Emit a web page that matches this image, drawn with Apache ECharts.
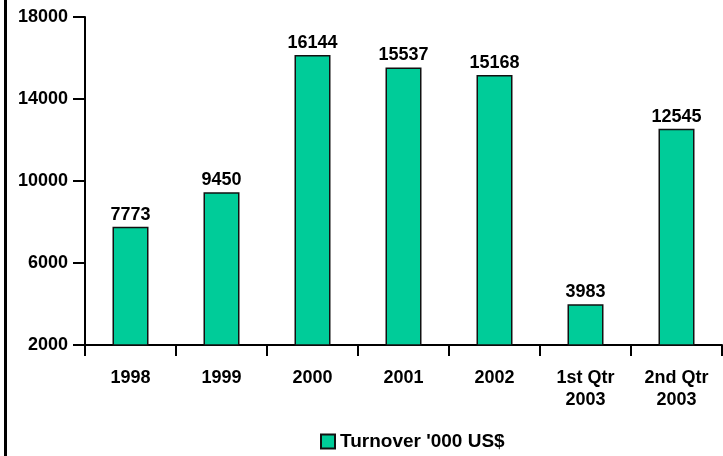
<!DOCTYPE html>
<html>
<head>
<meta charset="utf-8">
<script src="https://cdn.jsdelivr.net/npm/echarts@6/dist/echarts.min.js"></script>
<style>
  html,body{margin:0;padding:0;background:#fff}
  #chart{width:723px;height:456px}
</style>
</head>
<body>
<div id="chart"></div>
<script>
const categories = ['1998','1999','2000','2001','2002','1st Qtr\n2003','2nd Qtr\n2003']
const turnover = [7773, 9450, 16144, 15537, 15168, 3983, 12545]
const seriesName = "Turnover '000 US$"

const chart = echarts.init(document.getElementById('chart'))
const font = 'Liberation Sans, Arial, sans-serif'

const option = {
  animation: false,
  grid: {left: 85, right: 1, top: 17, bottom: 111},
  legend: {
    top: 427,
    left: 315,
    itemWidth: 14,
    itemHeight: 14,
    icon: 'rect',
    itemGap: 8,
    textStyle: {fontFamily: font, fontWeight: 'bold', fontSize: 19, color: '#000'},
    data: [seriesName]
  },
  graphic: [
    {type: 'rect', left: 4, top: 0, shape: {width: 3, height: 456}, style: {fill: '#000'}}
  ],
  xAxis: {
    type: 'category',
    data: categories,
    axisLine: {lineStyle: {color: '#000', width: 2}},
    axisTick: {show: true, length: 11, lineStyle: {color: '#000', width: 2}},
    axisLabel: {
      fontFamily: font, fontWeight: 'bold', fontSize: 18, color: '#000',
      margin: 22, lineHeight: 22, interval: 0
    }
  },
  yAxis: {
    type: 'value',
    min: 2000,
    max: 18000,
    interval: 4000,
    splitLine: {show: false},
    axisLine: {show: true, lineStyle: {color: '#000', width: 2}},
    axisTick: {show: true, length: 12, lineStyle: {color: '#000', width: 2}},
    axisLabel: {
      fontFamily: font, fontWeight: 'bold', fontSize: 18, color: '#000', margin: 17,
      formatter: v => String(v)
    }
  },
  series: [{
    name: seriesName,
    type: 'bar',
    data: turnover,
    barWidth: 36,
    itemStyle: {color: '#00CC99', borderColor: '#111', borderWidth: 1.5},
    label: {
      show: true,
      position: 'top',
      distance: 3,
      fontFamily: font, fontWeight: 'bold', fontSize: 18, color: '#000',
      formatter: p => String(p.value)
    }
  }]
}
chart.setOption(option)
</script>
</body>
</html>
